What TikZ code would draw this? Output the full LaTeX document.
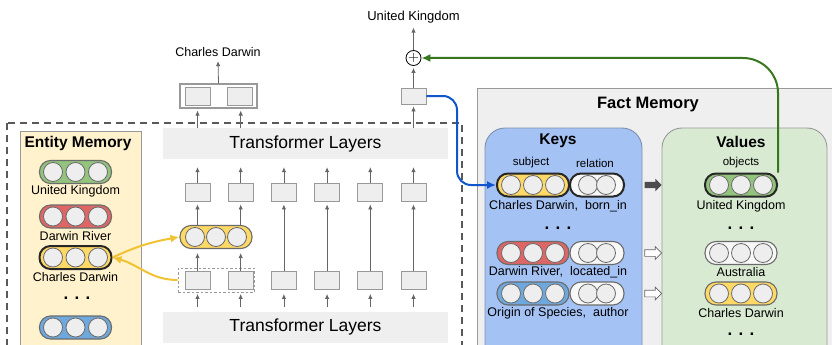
\documentclass[tikz,border=0pt]{standalone}
\usepackage{fontspec}
\setmainfont{Liberation Sans}
\usetikzlibrary{arrows.meta,calc,shapes.arrows}
\definecolor{boxfill}{HTML}{EEEEEE}
\definecolor{boxline}{HTML}{999999}
\definecolor{barfill}{HTML}{EFEFEF}
\definecolor{arrowgray}{HTML}{666666}
\definecolor{pillline}{HTML}{6B6B6B}
\definecolor{cellfill}{HTML}{EEEEEE}
\definecolor{entfill}{HTML}{FFF2CC}
\definecolor{factfill}{HTML}{EFEFEF}
\definecolor{keyfill}{HTML}{A4C2F4}
\definecolor{keyline}{HTML}{7F8FAF}
\definecolor{valfill}{HTML}{D9EAD3}
\definecolor{pillgreen}{HTML}{93C47D}
\definecolor{pillred}{HTML}{E06666}
\definecolor{pillyellow}{HTML}{FFD966}
\definecolor{pillblue}{HTML}{6FA8DC}
\definecolor{pillwhite}{HTML}{F8F8F8}
\definecolor{linkblue}{HTML}{1155CC}
\definecolor{linkgreen}{HTML}{38761D}
\definecolor{linkyellow}{HTML}{F1C232}
\newcommand{\pillcells}[3]{\foreach \k in {1,...,#2}{\node[cell] (#1-\k) at ($(#1)+({(\k-(#2+1)/2)*#3},0)$) {};}}
\begin{document}
\begin{tikzpicture}[x=1pt, y=-1pt,
  every node/.style={font=\fontsize{12.5}{14}\selectfont},
  layerbar/.style={fill=barfill, minimum width=285pt, minimum height=31pt, inner sep=0pt, font=\fontsize{17.5}{20}\selectfont},
  hbox/.style={draw=boxline, fill=boxfill, line width=0.9pt, minimum width=25pt, minimum height=18pt, inner sep=0pt},
  pill/.style={draw=pillline, line width=1.1pt, rounded corners=11pt, minimum width=72pt, minimum height=23pt, inner sep=0pt},
  relpill/.style={pill, minimum width=54pt, fill=pillwhite},
  chosen/.style={draw=black!85, line width=2pt},
  cell/.style={circle, draw=pillline, fill=cellfill, line width=0.8pt, minimum size=19pt, inner sep=0pt},
  paneltitle/.style={font=\bfseries\fontsize{15.5}{18}\selectfont},
  coltag/.style={font=\fontsize{11.5}{13}\selectfont},
  ellip/.style={font=\bfseries\fontsize{17}{18}\selectfont},
  flow/.style={draw=arrowgray, line width=0.8pt, -{Latex[length=5pt,width=4.5pt]}},
  link/.style={line width=2pt, -{Latex[length=9pt,width=8pt]}},
  blockarrow/.style={single arrow, single arrow head extend=3pt, minimum height=17pt, inner sep=3pt}
  ]
  \useasboundingbox (0,0) rectangle (832,345);
  \clip (0,0) rectangle (832,345);

  % panels
  \draw[draw=black!65, line width=1.2pt, dash pattern=on 7pt off 5pt] (7,123) rectangle (462,380);
  \node[draw=boxline, fill=entfill, line width=0.9pt, minimum width=121pt, minimum height=249pt] (entpanel) at (80.5,255.5) {};
  \node[draw=boxline, fill=factfill, line width=0.9pt, minimum width=368pt, minimum height=292pt] (factpanel) at (661,234) {};
  \node[draw=keyline, fill=keyfill, line width=0.9pt, rounded corners=20pt, minimum width=157pt, minimum height=252pt] (keypanel) at (563.5,254) {};
  \node[draw=boxline, fill=valfill, line width=0.9pt, rounded corners=20pt, minimum width=165pt, minimum height=252pt] (valpanel) at (744.5,254) {};
  \node[paneltitle] at (78,143) {Entity Memory};
  \node[paneltitle, font=\bfseries\fontsize{16.5}{18}\selectfont] at (648,105) {Fact Memory};
  \node[paneltitle] at (558,141) {Keys};
  \node[paneltitle] at (741,142) {Values};

  % transformer columns
  \node[layerbar] (topbar) at (305.5,143.5) {Transformer Layers};
  \node[layerbar] (botbar) at (305.5,327) {Transformer Layers};
  \foreach \i/\x in {1/197.5,2/240.7,3/283.9,4/327.1,5/370.3,6/413.5} {
    \node[hbox] (up\i) at (\x,192) {};
    \node[hbox] (lo\i) at (\x,280.5) {};
    \draw[flow, shorten >=8pt] (up\i.north) -- (up\i.north |- topbar.south);
    \draw[flow, shorten <=4pt, shorten >=4pt] (lo\i.south |- botbar.north) -- (lo\i.south);
  }
  \foreach \i in {3,...,6}
    \draw[flow, shorten >=3pt] (lo\i.north) -- (up\i.south);
  \node[draw=boxline, line width=0.9pt, dash pattern=on 2.5pt off 2pt, minimum width=76pt, minimum height=24pt] (lodash) at (216,280) {};
  \node[pill, fill=pillyellow] (mid) at (216,237) {};
  \pillcells{mid}{3}{21}

  % outputs
  \node[draw=boxline, fill=white, line width=1.1pt, minimum width=77pt, minimum height=24pt] (outbox) at (218.5,96) {};
  \node[hbox] (ob1) at (198,96) {};
  \node[hbox] (ob2) at (240,96) {};
  \node (cd) at (218,52) {Charles Darwin};
  \node[hbox, minimum height=16pt] (kbox) at (413.5,96) {};
  \node[circle, draw=black, line width=0.8pt, minimum size=15pt, inner sep=0pt, font=\fontsize{15}{15}\selectfont] (plus) at (413.5,58) {$+$};
  \node[font=\fontsize{13}{15}\selectfont] (uk) at (413.5,17) {United Kingdom};
  \foreach \i in {1,2} {
    \draw[flow, shorten >=4pt] (lo\i.north) -- (lo\i.north |- mid.south);
    \draw[flow, shorten >=3pt] (up\i.south |- mid.north) -- (up\i.south);
    \draw[flow, shorten >=2pt] (up\i.north |- topbar.north) -- (up\i.north |- outbox.south);
  }
  \draw[flow, shorten >=2pt] (up6.north |- topbar.north) -- (kbox.south);
  \draw[flow, shorten >=2pt] (kbox.north) -- (plus.south);
  \draw[flow, shorten >=1pt] (plus.north) -- (uk.south);
  \draw[flow, shorten >=1pt] (outbox.north) -- (cd.south);

  % entity memory
  \node[pill, fill=pillgreen] (e1) at (75.5,172) {};
  \pillcells{e1}{3}{22.5}
  \node (e1t) at (75.5,191) {United Kingdom};
  \node[pill, fill=pillred] (e2) at (75.5,216.5) {};
  \pillcells{e2}{3}{22.5}
  \node (e2t) at (75.5,236) {Darwin River};
  \node[pill, chosen, fill=pillyellow] (e3) at (75.5,257.5) {};
  \pillcells{e3}{3}{22.5}
  \node (e3t) at (75.5,277) {Charles Darwin};
  \node[ellip] at (77,298) {. . .};
  \node[pill, fill=pillblue] (e4) at (75.5,327.5) {};
  \pillcells{e4}{3}{22.5}

  % keys
  \node[coltag] at (531,163) {subject};
  \node[coltag] at (595,163) {relation};
  \node[pill, chosen, fill=pillyellow] (k1s) at (533,185) {};
  \pillcells{k1s}{3}{22}
  \node[relpill, chosen] (k1r) at (597,185) {};
  \pillcells{k1r}{2}{18}
  \node at (558,206) {Charles Darwin,\ \ born\_in};
  \node[ellip] at (558,228) {. . .};
  \node[pill, fill=pillred] (k2s) at (533,253) {};
  \pillcells{k2s}{3}{22}
  \node[relpill] (k2r) at (597,253) {};
  \pillcells{k2r}{2}{18}
  \node at (558,272) {Darwin River,\ \ located\_in};
  \node[pill, fill=pillblue] (k3s) at (533,293.5) {};
  \pillcells{k3s}{3}{22}
  \node[relpill] (k3r) at (597,293.5) {};
  \pillcells{k3r}{2}{18}
  \node at (558,313) {Origin of Species,\ \ author};

  % values
  \node[coltag] at (741,163) {objects};
  \node[pill, chosen, fill=pillgreen] (v1) at (741,185) {};
  \pillcells{v1}{3}{22}
  \node at (741,206) {United Kingdom};
  \node[ellip] at (741,228) {. . .};
  \node[pill, fill=pillwhite] (v2) at (741,253) {};
  \pillcells{v2}{3}{22}
  \node at (741,272) {Australia};
  \node[pill, fill=pillyellow] (v3) at (741,293.5) {};
  \pillcells{v3}{3}{22}
  \node at (741,313) {Charles Darwin};
  \node[ellip] at (741,334) {. . .};

  \node[blockarrow, fill=black!70] (a1) at (651.5,185) {};
  \node[blockarrow, draw=arrowgray, fill=white, line width=0.7pt] (a2) at (651.5,253) {};
  \node[blockarrow, draw=arrowgray, fill=white, line width=0.7pt] (a3) at (651.5,293.5) {};

  % links
  \coordinate (bend) at (457,140);
  \draw[link, linkblue, rounded corners=14pt] (kbox.east) -| (bend) |- (k1s.west);
  \draw[link, linkgreen, rounded corners=35pt] (v1.north east) |- (plus.east);
  \draw[link, linkyellow] (lodash.west) to[out=180, in=-15] (e3.east);
  \draw[link, linkyellow] (e3.east) to[out=25, in=190] (mid.west);
\end{tikzpicture}
\end{document}
